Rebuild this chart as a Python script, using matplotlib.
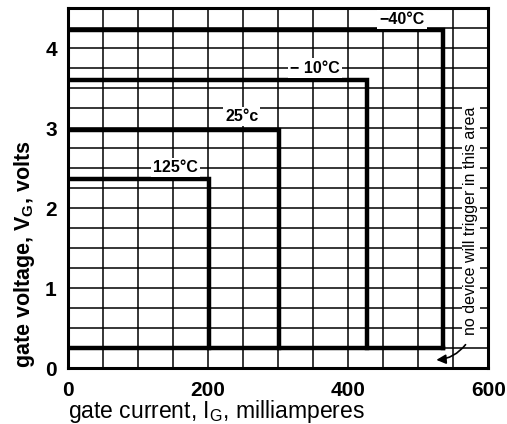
import numpy as np
import matplotlib
matplotlib.use("Agg")
import matplotlib.pyplot as plt

plt.rcParams['font.family'] = ['Liberation Sans', 'DejaVu Sans']

# gate trigger boundaries, one per temperature
temp_labels = ["\u221240\u00b0C", "\u2212 10\u00b0C", "25\u00b0c", "125\u00b0C"]
gate_current_max = [536, 427, 302, 201]      # mA
gate_voltage_max = [4.22, 3.6, 2.98, 2.36]   # V
gate_voltage_min = 0.25                      # V

x_ticks = [0, 200, 400, 600]
y_ticks = [0, 1, 2, 3, 4]

fig = plt.figure(figsize=(5.07, 4.24), dpi=100)
ax = fig.add_axes([0.134, 0.132, 0.829, 0.849])

ax.set_xlim(0, 600)
ax.set_ylim(0, 4.5)
ax.set_xticks(x_ticks)
ax.set_yticks(y_ticks)
ax.set_xticks(np.arange(0, 601, 50), minor=True)
ax.set_yticks(np.arange(0, 4.51, 0.25), minor=True)
ax.grid(which='both', color='black', lw=1.1)
ax.set_axisbelow(True)
ax.tick_params(which='both', length=0)
ax.tick_params(axis='x', pad=9)
ax.tick_params(axis='y', pad=8)
for lab in ax.get_xticklabels() + ax.get_yticklabels():
    lab.set_fontsize(15)
    lab.set_fontweight('bold')
for sp in ax.spines.values():
    sp.set_linewidth(2.2)

# boundary lines
for i, v in zip(gate_current_max, gate_voltage_max):
    ax.plot([0, i, i], [v, v, gate_voltage_min], color='black', lw=3.2,
            solid_joinstyle='miter', zorder=3)
ax.plot([0, max(gate_current_max)], [gate_voltage_min, gate_voltage_min],
        color='black', lw=3.2, zorder=3)

# temperature labels (positions in data units)
label_pos = [(477, 4.36), (353, 3.75), (248, 3.14), (153, 2.51)]
for txt, (x, y) in zip(temp_labels, label_pos):
    ax.text(x, y, txt, ha='center', va='center', fontsize=11.5,
            fontweight='bold', zorder=4,
            bbox=dict(facecolor='white', edgecolor='none', pad=1.5))

ax.text(575, 1.84, "no device will trigger in this area", rotation=90,
        ha='center', va='center', fontsize=11.5, zorder=4,
        bbox=dict(facecolor='white', edgecolor='none', pad=1))
ax.annotate("", xy=(522, 0.1), xytext=(570, 0.32),
            arrowprops=dict(arrowstyle='-|>', color='black', lw=1.2,
                            mutation_scale=14,
                            connectionstyle='arc3,rad=-0.25'), zorder=4)

ax.set_xlabel("gate current, I$\\mathregular{_G}$, milliamperes", fontsize=16.5,
              loc='left', labelpad=-1)
ax.set_ylabel("gate voltage, V$\\mathregular{_G}$, volts", fontsize=15.5,
              fontweight='bold', loc='bottom', labelpad=6)

fig.savefig("out.png", dpi=100)
